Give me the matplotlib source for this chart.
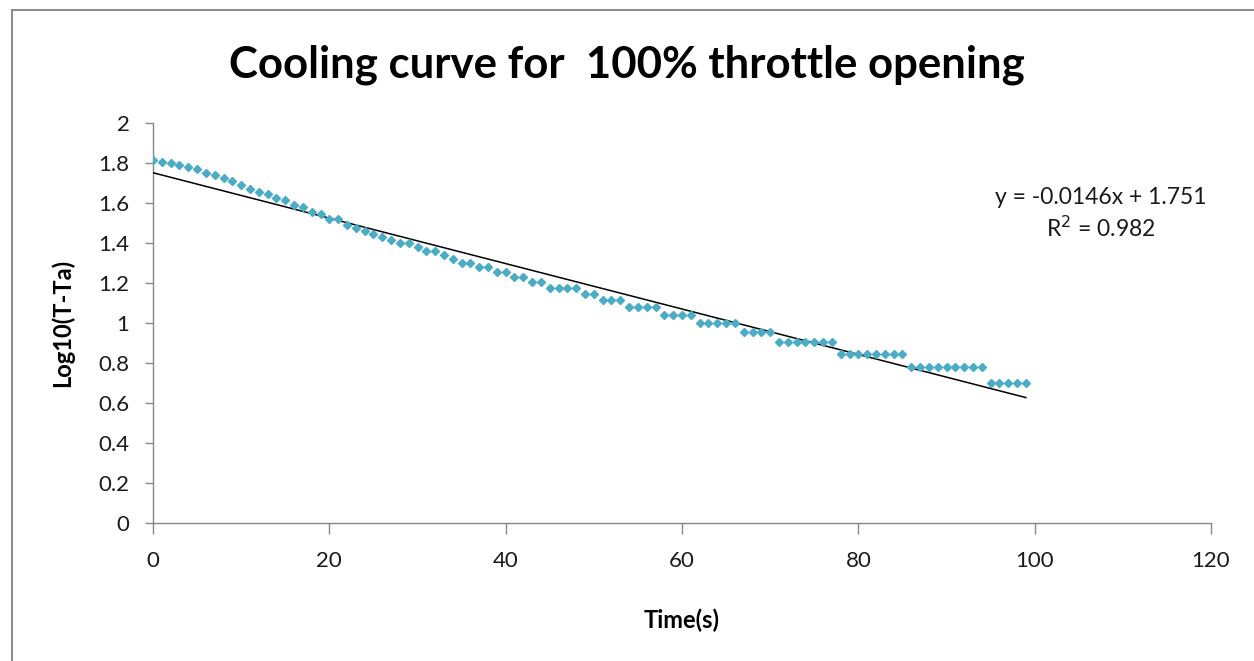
import matplotlib.pyplot as plt
from matplotlib.patches import Rectangle
import numpy as np

# time in seconds
time_s = list(range(0, 100))

# log10 of temperature difference above ambient
log_dt = [
    1.813, 1.806, 1.799, 1.792, 1.778, 1.771, 1.748, 1.740, 1.724, 1.708,
    1.690, 1.672, 1.653, 1.643, 1.623, 1.613, 1.591, 1.580, 1.556, 1.544,
    1.519, 1.519, 1.491, 1.477, 1.462, 1.447, 1.431, 1.415, 1.398, 1.398,
    1.380, 1.362, 1.362, 1.342, 1.322, 1.301, 1.301, 1.279, 1.279, 1.255,
    1.255, 1.230, 1.230, 1.204, 1.204, 1.176, 1.176, 1.176, 1.176, 1.146,
    1.146, 1.114, 1.114, 1.114, 1.079, 1.079, 1.079, 1.079, 1.041, 1.041,
    1.041, 1.041, 1.000, 1.000, 1.000, 1.000, 1.000, 0.954, 0.954, 0.954,
    0.954, 0.903, 0.903, 0.903, 0.903, 0.903, 0.903, 0.903, 0.845, 0.845,
    0.845, 0.845, 0.845, 0.845, 0.845, 0.845, 0.778, 0.778, 0.778, 0.778,
    0.778, 0.778, 0.778, 0.778, 0.778, 0.699, 0.699, 0.699, 0.699, 0.699,
]

# trendline text as printed on the chart
eq_label = 'y = -0.0146x + 1.751'
r2_label = 'R$^2$ = 0.982'

plt.rcParams['font.family'] = ['Lato', 'DejaVu Sans']

fig = plt.figure(figsize=(12.54, 6.61), dpi=100)

# chart frame
fig.patches.append(Rectangle((12 / 1254, -0.1), 1.2, 1.1 - 10 / 661,
                             transform=fig.transFigure, fill=False,
                             edgecolor='#8c8c8c', linewidth=1.5))

ax = fig.add_axes([153 / 1254, 1 - 523 / 661, (1211 - 153) / 1254, 400 / 661])

ax.plot(time_s, log_dt, linestyle='none', marker='D', markersize=4.0,
        color='#4bacc6', zorder=3)

# least squares trendline over the measured range
coef = np.polyfit(time_s, log_dt, 1)
fit_x = np.array([time_s[0], time_s[-1]])
ax.plot(fit_x, np.polyval(coef, fit_x), color='black', linewidth=1.1, zorder=2)

ax.set_xlim(0, 120)
ax.set_ylim(0, 2)
ax.set_xticks(range(0, 121, 20))
yticks = [i / 5 for i in range(0, 11)]
ax.set_yticks(yticks)
ax.set_yticklabels(['%g' % v for v in yticks])

for side in ['top', 'right']:
    ax.spines[side].set_visible(False)
for side in ['left', 'bottom']:
    ax.spines[side].set_color('#868686')
    ax.spines[side].set_linewidth(1.0)
    ax.spines[side].set_zorder(1)

ax.tick_params(axis='both', direction='out', width=1.0,
               color='#868686', labelsize=16, labelcolor='#1a1a1a')
ax.tick_params(axis='x', length=8, pad=12)
ax.tick_params(axis='y', length=6, pad=11)

ax.set_xlabel('Time(s)', fontsize=17, fontweight='bold', va='center')
ax.xaxis.set_label_coords(0.5, -0.2425)
ax.set_ylabel('Log10(T-Ta)', fontsize=17, fontweight='bold', va='center')
ax.yaxis.set_label_coords(-0.086, 0.5)

fig.text(0.5, 1 - 65 / 661, 'Cooling curve for  100% throttle opening',
         ha='center', va='center', fontsize=31.5, fontweight='bold')

ax.text(107.5, 1.625, eq_label, ha='center', va='center', fontsize=16.5,
        color='#1a1a1a')
ax.text(107.5, 1.475, r2_label, ha='center', va='center',
        fontsize=16.5, color='#1a1a1a')

fig.savefig('out.png', dpi=100, facecolor='white')
